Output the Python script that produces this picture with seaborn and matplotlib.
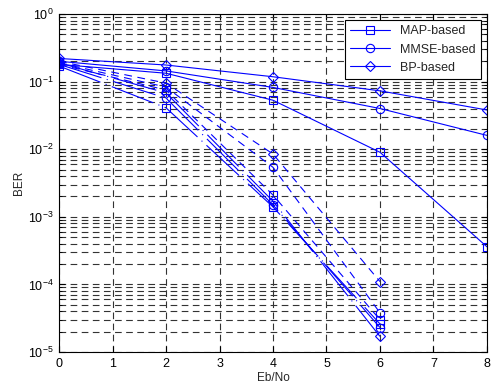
import matplotlib
matplotlib.use("Agg")
import matplotlib.pyplot as plt
import pandas as pd
import seaborn as sns
from matplotlib.ticker import LogLocator, MultipleLocator, NullFormatter

# Eb/No points (dB)
ebno_long = [0, 2, 4, 6, 8]
ebno_short = [0, 2, 4, 6]

# slow-decaying curves (solid, up to 8 dB)
map_a = [0.18, 0.133, 0.053, 0.009, 0.00036]
mmse_a = [0.20, 0.144, 0.082, 0.040, 0.016]
bp_a = [0.22, 0.176, 0.118, 0.073, 0.038]

# steep curves (dash-dot)
map_b = [0.17, 0.041, 0.0014, 2.6e-5]
mmse_b = [0.18, 0.057, 0.0015, 2.3e-5]
bp_b = [0.19, 0.068, 0.0017, 1.7e-5]

# steep curves (dashed)
map_c = [0.18, 0.075, 0.0021, 3.0e-5]
mmse_c = [0.19, 0.083, 0.0054, 3.8e-5]
bp_c = [0.20, 0.095, 0.0085, 1.1e-4]

labels = ["MAP-based", "MMSE-based", "BP-based"]
markers = ["s", "o", "D"]
marker_sizes = [6, 6, 5]

sns.set_style("ticks")
plt.rcParams["font.family"] = ["Liberation Sans", "DejaVu Sans"]

fig = plt.figure(figsize=(4.93, 3.89), dpi=100)
ax = fig.add_axes([0.1197, 0.0951, 0.8681, 0.8689])

groups = [
    (ebno_long, [map_a, mmse_a, bp_a], "-"),
    (ebno_short, [map_b, mmse_b, bp_b], (0, (40, 5, 1, 5))),
    (ebno_short, [map_c, mmse_c, bp_c], (0, (7, 5))),
]

handles = []
for gi, (xs, series, ls) in enumerate(groups):
    for si, ys in enumerate(series):
        df = pd.DataFrame({"ebno": xs, "ber": ys})
        sns.lineplot(data=df, x="ebno", y="ber", ax=ax, color="#0000ff",
                     linestyle=ls, linewidth=0.8, marker=markers[si],
                     markersize=marker_sizes[si], markerfacecolor="none",
                     markeredgecolor="#0000ff", markeredgewidth=0.8,
                     label=labels[si] if gi == 0 else None, legend=False)
        if gi == 0:
            handles.append(ax.lines[-1])

ax.set_yscale("log")
ax.set_xlim(0, 8)
ax.set_ylim(1e-5, 1)
ax.xaxis.set_major_locator(MultipleLocator(1))
ax.yaxis.set_major_locator(LogLocator(base=10, numticks=10))
ax.yaxis.set_minor_locator(LogLocator(base=10, subs=range(2, 10), numticks=20))
ax.yaxis.set_minor_formatter(NullFormatter())

ax.set_axisbelow(True)
grid_kw = dict(color="0.2", linestyle=(0, (6, 4)), linewidth=0.8)
ax.grid(True, which="major", axis="both", **grid_kw)
ax.grid(True, which="minor", axis="y", **grid_kw)

for sp in ax.spines.values():
    sp.set_visible(True)
    sp.set_color("black")
    sp.set_linewidth(0.8)

ax.tick_params(which="both", direction="in", top=True, right=True, labelsize=9, colors="black")
ax.tick_params(which="major", length=4, pad=4)
ax.tick_params(which="minor", length=2)

ax.set_xlabel("Eb/No", fontsize=8.5, labelpad=2)
ax.set_ylabel("BER", fontsize=8.5, labelpad=2)

leg = ax.legend(handles=handles, labels=labels, loc="upper right", fontsize=9,
                frameon=True, fancybox=False, framealpha=1, edgecolor="black",
                handlelength=3.2, borderaxespad=0.5, labelspacing=0.5)
leg.get_frame().set_linewidth(0.8)

fig.savefig("out.png", dpi=100)
